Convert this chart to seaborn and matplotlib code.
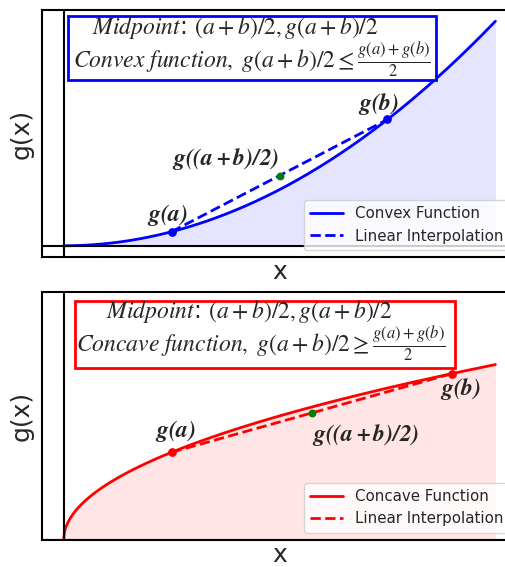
import numpy as np
import pandas as pd
import matplotlib
matplotlib.use("Agg")
import matplotlib.pyplot as plt
from matplotlib.patches import Rectangle
import seaborn as sns

# ---- data ----
x_start, x_end = 0.0, 10.0
convex_a, convex_b = 2.5, 7.5
concave_a, concave_b = 2.5, 9.0
convex_labels = ["Convex Function", "Linear Interpolation"]
concave_labels = ["Concave Function", "Linear Interpolation"]
convex_title = [r"$Midpoint$: $(a+b)/2, g(a+b)/2$",
                r"$Convex\ function,\ g(a+b)/2 \leq \frac{g(a)+g(b)}{2}$"]
concave_title = [r"$Midpoint$: $(a+b)/2, g(a+b)/2$",
                 r"$Concave\ function,\ g(a+b)/2 \geq \frac{g(a)+g(b)}{2}$"]

sns.set_style("white")
plt.rcParams["font.family"] = ["DejaVu Sans"]
plt.rcParams["mathtext.fontset"] = "stix"

xs = np.linspace(x_start, x_end, 500)


def convex(v):
    return np.asarray(v, dtype=float) ** 2


def concave(v):
    return np.sqrt(np.asarray(v, dtype=float))


W, H = 506, 567
fig = plt.figure(figsize=(W / 100, H / 100), dpi=100)
ax1 = fig.add_axes([42 / W, (H - 257) / H, 475 / W, 247 / H])
ax2 = fig.add_axes([42 / W, (H - 540) / H, 475 / W, 248 / H])

LABEL_FS = 17
BOX_FS = 17


def panel(ax, f, a, b, color, labels, lab_pos):
    ys = f(xs)
    df = pd.DataFrame({"x": xs, "y": ys})
    ax.fill_between(df["x"], df["y"], color=color, alpha=0.1, linewidth=0)
    sns.lineplot(data=df, x="x", y="y", ax=ax, color=color, linewidth=2,
                 label=labels[0])
    seg = pd.DataFrame({"x": [a, b], "y": [f(a), f(b)]})
    sns.lineplot(data=seg, x="x", y="y", ax=ax, color=color, linewidth=2,
                 linestyle="--", label=labels[1])
    m = (a + b) / 2
    gm = (f(a) + f(b)) / 2
    ax.scatter([a, b], [f(a), f(b)], color=color, s=28, zorder=5)
    ax.scatter([m], [gm], color="green", s=22, zorder=5)
    ax.axhline(0, color="black", linewidth=1.5)
    ax.axvline(0, color="black", linewidth=1.5)
    for sp in ax.spines.values():
        sp.set_color("black")
        sp.set_linewidth(1.5)
    ax.set_xticks([])
    ax.set_yticks([])
    ax.set_xlabel("x", fontsize=18, labelpad=2)
    ax.set_ylabel("g(x)", fontsize=18, labelpad=6)
    ax.legend(loc="lower right", fontsize=10.8, handlelength=2.2)
    ax.text(*lab_pos[0], r"$\mathbfit{g(a)}$", fontsize=LABEL_FS, ha="center", va="bottom")
    ax.text(*lab_pos[1], r"$\mathbfit{g(b)}$", fontsize=LABEL_FS,
            ha=lab_pos[3][0], va=lab_pos[3][1])
    ax.text(*lab_pos[2], r"$\mathbfit{g((a+b)/2)}$", fontsize=LABEL_FS,
            ha=lab_pos[3][2], va=lab_pos[3][3])


def title_box(ax, lines, color, box, pos):
    x0, y0, x1, y1 = box
    ax.add_patch(Rectangle((x0, y0), x1 - x0, y1 - y0, transform=ax.transAxes,
                           facecolor="white", edgecolor=color, linewidth=2,
                           zorder=6))
    for txt, (tx, ty) in zip(lines, pos):
        ax.text(tx, ty, txt, transform=ax.transAxes, fontsize=BOX_FS,
                ha="center", va="baseline", zorder=7)


# convex panel
ca, cb = convex_a, convex_b
cm = (ca + cb) / 2
cgm = (convex(ca) + convex(cb)) / 2
panel(ax1, convex, ca, cb, "blue", convex_labels,
      [(ca - 0.1, convex(ca) + 1.5), (cb - 0.2, convex(cb) + 1.0),
       (cm, cgm + 1.5), ("center", "bottom", "right", "bottom")])
title_box(ax1, convex_title, "blue", (0.0547, 0.7166, 0.8295, 0.9757),
          [(0.406, 0.903), (0.442, 0.765)])

# concave panel
ka, kb = concave_a, concave_b
km = (ka + kb) / 2
kgm = (concave(ka) + concave(kb)) / 2
panel(ax2, concave, ka, kb, "red", concave_labels,
      [(ka + 0.1, concave(ka) + 0.15), (kb + 0.2, concave(kb) - 0.05),
       (km, kgm - 0.17), ("center", "top", "left", "top")])
ax2.set_ylim(0, 4.47)
title_box(ax2, concave_title, "red", (0.0695, 0.6935, 0.869, 0.9637),
          [(0.436, 0.895), (0.461, 0.758)])

fig.savefig("out.png", dpi=100)
